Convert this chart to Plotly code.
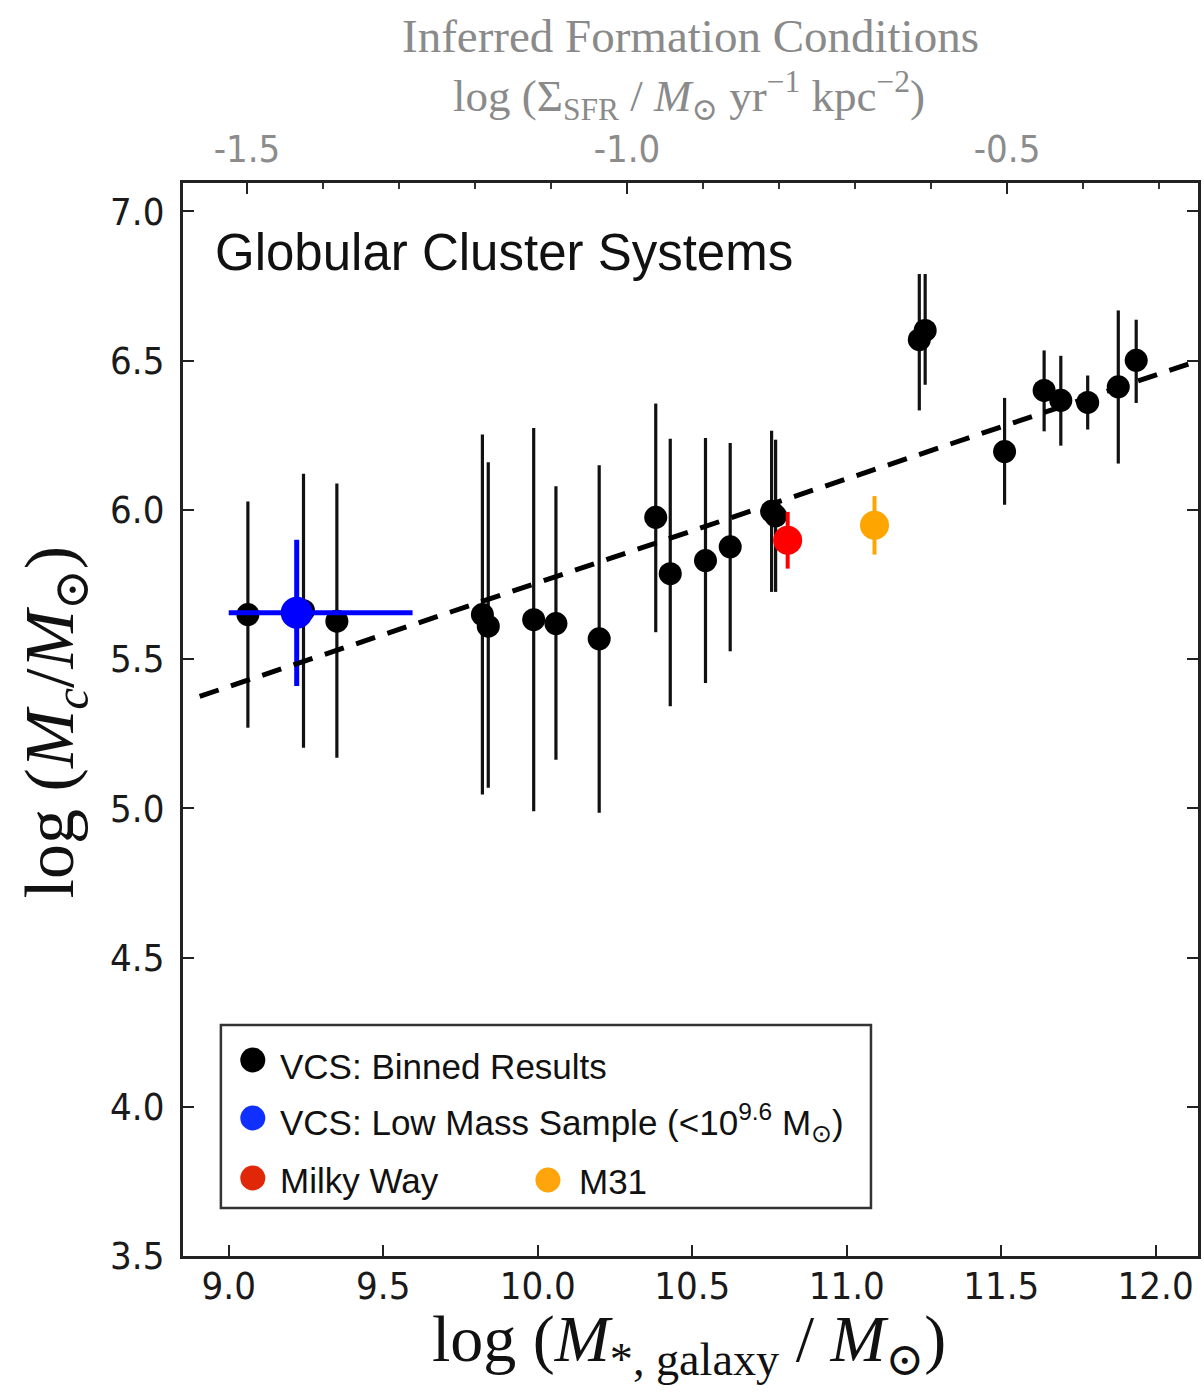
import plotly.graph_objects as go

# ---------------- data ----------------
BIN_X = [9.062, 9.242, 9.350, 9.821, 9.840, 9.987, 10.059, 10.199, 10.382, 10.429,
         10.543, 10.623, 10.757, 10.770, 11.235, 11.254, 11.511, 11.639, 11.693,
         11.780, 11.879, 11.937]
BIN_Y = [5.649, 5.662, 5.627, 5.649, 5.610, 5.632, 5.619, 5.568, 5.975, 5.786,
         5.830, 5.876, 5.995, 5.980, 6.570, 6.601, 6.195, 6.400, 6.367,
         6.360, 6.412, 6.501]
BIN_ERR_HI = [0.379, 0.459, 0.461, 0.603, 0.549, 0.642, 0.460, 0.581, 0.381, 0.452,
              0.411, 0.348, 0.270, 0.255, 0.220, 0.189, 0.180, 0.134, 0.149,
              0.090, 0.256, 0.136]
BIN_ERR_LO = [0.379, 0.459, 0.458, 0.603, 0.541, 0.642, 0.456, 0.583, 0.385, 0.444,
              0.410, 0.350, 0.270, 0.255, 0.237, 0.182, 0.178, 0.137, 0.152,
              0.091, 0.257, 0.143]

LOW_X = [9.22]
LOW_Y = [5.655]
LOW_ERR_Y = [0.245]
LOW_ERR_X_HI = [0.375]
LOW_ERR_X_LO = [0.22]

MW_X = [10.809]
MW_Y = [5.898]
MW_ERR = [0.095]

M31_X = [11.09]
M31_Y = [5.948]
M31_ERR = [0.098]

FIT_X = [8.906, 12.30]
FIT_X0, FIT_Y0, FIT_SLOPE = 8.906, 5.375, 0.348

X_TICKS = [9.0, 9.5, 10.0, 10.5, 11.0, 11.5, 12.0]
Y_TICKS = [3.5, 4.0, 4.5, 5.0, 5.5, 6.0, 6.5, 7.0]
TOP_TICKS = [-1.5, -1.0, -0.5]
TOP_TICK_LABELS = ["-1.5", "-1.0", "-0.5"]
SIGMA_AT_9, SIGMA_PER_DEX = -1.524, 0.4065   # top-axis conversion

X_RANGE = [8.852, 12.137]
Y_RANGE = [3.5, 7.095]
TOP_RANGE = [SIGMA_AT_9 + SIGMA_PER_DEX * (v - 9.0) for v in X_RANGE]

LEGEND_LABELS = ["VCS: Binned Results",
                 "VCS: Low Mass Sample (&lt;10<sup>9.6</sup> M<sub>⊙</sub>)",
                 "Milky Way", "M31"]
LEGEND_COLORS = ["#000000", "#1030ff", "#e02808", "#ffa40a"]

# ---------------- figure ----------------
W, H = 1204, 1394
ML, MR, MT, MB = 183, 3, 183, 138
PW, PH = W - ML - MR, H - MT - MB

def px2paper_x(p):
    return (p - ML) / PW

def py2paper_y(p):
    return (H - MB - p) / PH

fig = go.Figure()

# binned results
fig.add_trace(go.Scatter(
    x=BIN_X, y=BIN_Y, mode="markers", name="VCS: Binned Results",
    marker=dict(color="black", size=23),
    error_y=dict(type="data", symmetric=False, array=BIN_ERR_HI, arrayminus=BIN_ERR_LO,
                 color="#111111", thickness=3.2, width=0),
    showlegend=False))

# low mass sample
fig.add_trace(go.Scatter(
    x=LOW_X, y=LOW_Y, mode="markers", name="VCS: Low Mass Sample",
    marker=dict(color="#0000ff", size=32),
    error_y=dict(type="data", array=LOW_ERR_Y, color="#0000ff", thickness=5, width=0),
    error_x=dict(type="data", symmetric=False, array=LOW_ERR_X_HI, arrayminus=LOW_ERR_X_LO,
                 color="#0000ff", thickness=5, width=0),
    showlegend=False))

# Milky Way
fig.add_trace(go.Scatter(
    x=MW_X, y=MW_Y, mode="markers", name="Milky Way",
    marker=dict(color="#ff0000", size=29),
    error_y=dict(type="data", array=MW_ERR, color="#ff0000", thickness=4, width=0),
    showlegend=False))

# M31
fig.add_trace(go.Scatter(
    x=M31_X, y=M31_Y, mode="markers", name="M31",
    marker=dict(color="#ffa500", size=29),
    error_y=dict(type="data", array=M31_ERR, color="#ffa500", thickness=4, width=0),
    showlegend=False))

# fit line
fig.add_trace(go.Scatter(
    x=FIT_X, y=[FIT_Y0 + FIT_SLOPE * (v - FIT_X0) for v in FIT_X],
    mode="lines", line=dict(color="black", width=5, dash="20px,13px"),
    showlegend=False, hoverinfo="skip"))

# invisible trace on the top axis so it is drawn
fig.add_trace(go.Scatter(
    x=TOP_RANGE, y=Y_RANGE, xaxis="x2", mode="markers",
    marker=dict(opacity=0, size=1), showlegend=False, hoverinfo="skip"))

tick_font = dict(family="DejaVu Sans Condensed, DejaVu Sans", size=38, color="#1a1a1a")

fig.update_layout(
    width=W, height=H,
    margin=dict(l=ML, r=MR, t=MT, b=MB, pad=0),
    paper_bgcolor="white", plot_bgcolor="white",
    xaxis=dict(range=X_RANGE, tickvals=X_TICKS, tickformat=".1f",
               ticks="inside", ticklen=11, tickwidth=2, tickcolor="#222",
               showline=True, linecolor="#222", linewidth=3, mirror=False,
               showgrid=False, zeroline=False, tickfont=tick_font,
               ticklabelstandoff=-6),
    xaxis2=dict(range=TOP_RANGE, overlaying="x", side="top",
                tickvals=TOP_TICKS, ticktext=TOP_TICK_LABELS,
                ticks="inside", ticklen=11, tickwidth=2, tickcolor="#222",
                minor=dict(dtick=0.1, ticks="inside", ticklen=6, tickwidth=1.5, tickcolor="#333"),
                showline=True, linecolor="#222", linewidth=3,
                showgrid=False, zeroline=False,
                tickfont=dict(family="DejaVu Sans Condensed, DejaVu Sans", size=38, color="#8c8c8c"),
                ticklabelstandoff=3),
    yaxis=dict(range=Y_RANGE, tickvals=Y_TICKS, tickformat=".1f",
               ticks="inside", ticklen=11, tickwidth=2, tickcolor="#222",
               showline=True, linecolor="#222", linewidth=3, mirror="ticks",
               showgrid=False, zeroline=False, tickfont=tick_font,
               ticklabelstandoff=8),
    showlegend=False,
)

serif = "Liberation Serif, DejaVu Serif, serif"
annotations = [
    dict(text="Globular Cluster Systems", x=px2paper_x(213), y=py2paper_y(252),
         xref="paper", yref="paper", xanchor="left", yanchor="middle", showarrow=False,
         font=dict(family="Liberation Sans, Arial", size=51, color="#111")),
    dict(text="Inferred Formation Conditions", x=px2paper_x(692), y=py2paper_y(36),
         xref="paper", yref="paper", xanchor="center", yanchor="middle", showarrow=False,
         font=dict(family=serif, size=47, color="#8a8a8a")),
    dict(text="log (Σ<sub>SFR</sub> / <i>M</i><sub>⊙</sub> yr<sup>−1</sup> kpc<sup>−2</sup>)",
         x=px2paper_x(690), y=py2paper_y(96),
         xref="paper", yref="paper", xanchor="center", yanchor="middle", showarrow=False,
         font=dict(family=serif, size=45, color="#8a8a8a")),
    dict(text="log (<i>M</i><sub>*, galaxy</sub> / <i>M</i><sub>⊙</sub>)",
         x=px2paper_x(690), y=py2paper_y(1343),
         xref="paper", yref="paper", xanchor="center", yanchor="middle", showarrow=False,
         font=dict(family=serif, size=66, color="#111")),
    dict(text="log (<i>M</i><sub><i>c</i></sub>/<i>M</i><sub>⊙</sub>)",
         x=px2paper_x(55), y=py2paper_y(722), textangle=-90,
         xref="paper", yref="paper", xanchor="center", yanchor="middle", showarrow=False,
         font=dict(family=serif, size=70, color="#111")),
]

# legend (drawn by hand to reproduce the two-column last row)
leg_rows = [(253, 1060, 278, 1066), (253, 1118, 278, 1122), (253, 1178, 278, 1180), (549, 1180, 578, 1181)]
shapes = [dict(type="rect", xref="paper", yref="paper",
               x0=px2paper_x(221), x1=px2paper_x(873), y0=py2paper_y(1208), y1=py2paper_y(1025),
               line=dict(color="#333", width=2.5), fillcolor="white", layer="above")]
for (mx, my, tx, ty), lab, col in zip(leg_rows, LEGEND_LABELS, LEGEND_COLORS):
    shapes.append(dict(type="circle", xref="paper", yref="paper",
                       xsizemode="pixel", ysizemode="pixel",
                       xanchor=px2paper_x(mx), yanchor=py2paper_y(my),
                       x0=-12.5, x1=12.5, y0=-12.5, y1=12.5,
                       fillcolor=col, line=dict(width=0), layer="above"))
    annotations.append(dict(text=lab, x=px2paper_x(tx), y=py2paper_y(ty),
                            xref="paper", yref="paper", xanchor="left", yanchor="middle",
                            showarrow=False,
                            font=dict(family="Liberation Sans, Arial", size=35, color="#111")))

fig.update_layout(annotations=annotations, shapes=shapes)

fig.write_html("out.html")
